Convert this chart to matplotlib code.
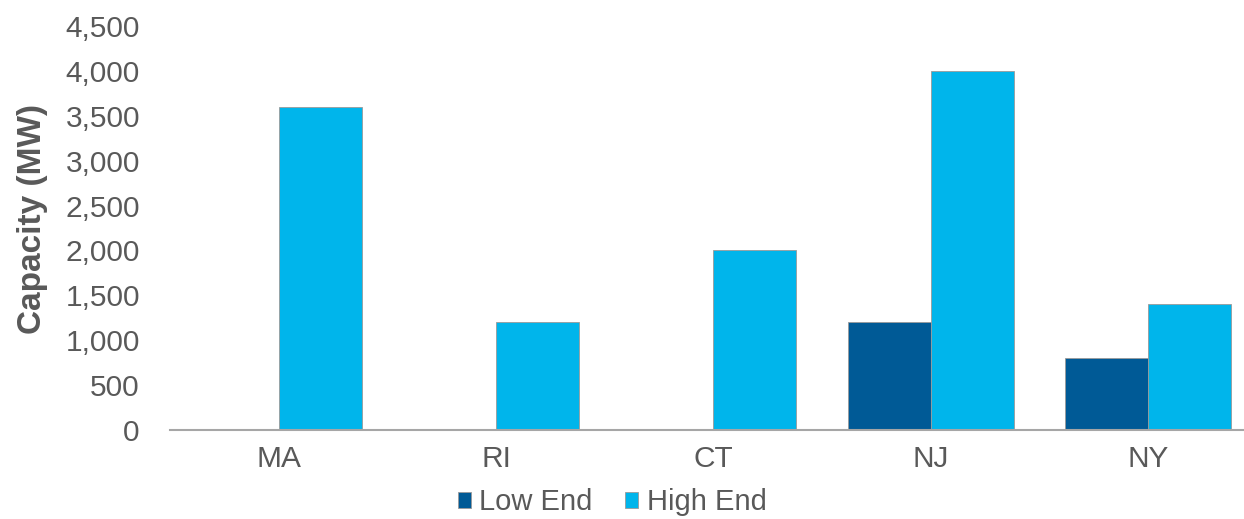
import matplotlib
matplotlib.use("Agg")
import matplotlib.pyplot as plt
from matplotlib.ticker import FuncFormatter, MultipleLocator
import numpy as np

# Offshore wind capacity targets by state (MW)
states = ["MA", "RI", "CT", "NJ", "NY"]
low_end = [0, 0, 0, 1200, 800]
high_end = [3600, 1200, 2000, 4000, 1400]
series_names = ["Low End", "High End"]
colors = ["#005A96", "#00B5EB"]

plt.rcParams["font.family"] = ["Liberation Sans", "DejaVu Sans"]
text_gray = "#595959"

fig = plt.figure(figsize=(12.44, 5.19), dpi=100)
ax = fig.add_axes([0.137, 0.1715, 0.873, 0.7785])

x = np.arange(len(states))
w = 0.382
ax.bar(x - w / 2, low_end, width=w, color=colors[0], edgecolor="#9a9a9a",
       linewidth=0.6, label=series_names[0], zorder=2)
ax.bar(x + w / 2, high_end, width=w, color=colors[1], edgecolor="#9a9a9a",
       linewidth=0.6, label=series_names[1], zorder=2)

ax.set_xlim(-0.5, len(states) - 0.5)
ax.set_ylim(0, 4500)
ax.yaxis.set_major_locator(MultipleLocator(500))
ax.yaxis.set_major_formatter(FuncFormatter(lambda v, p: f"{int(v):,}"))

for s in ["top", "right", "left"]:
    ax.spines[s].set_visible(False)
ax.spines["bottom"].set_color("#a6a6a6")
ax.spines["bottom"].set_linewidth(1.5)

ax.set_xticks(x)
ax.set_xticklabels(states)
ax.tick_params(axis="x", length=0, pad=11, labelsize=21.5, labelcolor=text_gray)
ax.tick_params(axis="y", length=0, pad=22, labelsize=21.5, labelcolor=text_gray)

ax.set_ylabel("Capacity (MW)", fontsize=24, fontweight="bold", color=text_gray)
ax.yaxis.set_label_coords(-0.113, 0.522)

leg = fig.legend(loc="center", bbox_to_anchor=(0.492, 0.032), ncol=2,
                 frameon=False, fontsize=21, handlelength=0.45,
                 handleheight=0.5, handletextpad=0.3, columnspacing=1.1,
                 borderpad=0.2)
for t in leg.get_texts():
    t.set_color(text_gray)

fig.savefig("out.png", dpi=100)
